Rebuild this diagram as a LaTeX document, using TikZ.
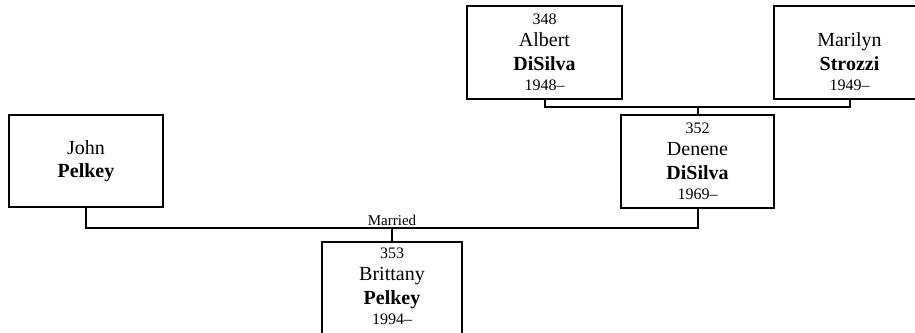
\documentclass[tikz,border=0pt]{standalone}
\usepackage{fontspec}
\setmainfont{Liberation Serif}
\begin{document}
\begin{tikzpicture}[x=1pt,y=1pt,
  person/.style={draw=black,line width=2pt,align=center,inner sep=0pt,
    font=\fontsize{20}{22}\selectfont},
  link/.style={draw=black,line width=2pt}]
\useasboundingbox (0,0) rectangle (915,332);
\newcommand{\smtext}[1]{{\fontsize{16}{18}\selectfont #1}}
% boxes (y measured from top: Y = 332 - ypix)
\node[person,minimum width=155pt,minimum height=93pt] (albert) at (544.5,279.5)
  {\smtext{348}\\Albert\\[1.5pt]\textbf{DiSilva}\\[-1.5pt]\smtext{1948–}};
\node[person,minimum width=152pt,minimum height=93pt] (marilyn) at (849.5,279.5)
  {\smtext{\phantom{0}}\\Marilyn\\[1.5pt]\textbf{Strozzi}\\[-1.5pt]\smtext{1949–}};
\node[person,minimum width=153pt,minimum height=93pt] (denene) at (697.5,170.5)
  {\smtext{352}\\Denene\\[1.5pt]\textbf{DiSilva}\\[-1.5pt]\smtext{1969–}};
\node[person,minimum width=154pt,minimum height=92pt] (john) at (86,171)
  {John\\[1.5pt]\textbf{Pelkey}};
\node[person,minimum width=140pt,minimum height=95pt] (brittany) at (392,42.5)
  {\smtext{353}\\Brittany\\[1.5pt]\textbf{Pelkey}\\[-1.5pt]\smtext{1994–}\rule[-6pt]{0pt}{0pt}};
% connectors
\coordinate (ab) at (697.5,225);
\coordinate (jd) at (392,104);
\draw[link] (albert.south) |- (ab) -| (marilyn.south);
\draw[link] (ab) -- (denene.north);
\draw[link] (john.south) |- (jd) -| (denene.south);
\draw[link] (jd) -- (brittany.north);
\node[font=\fontsize{15}{17}\selectfont,anchor=south,inner sep=2.5pt] (married) at (jd) {Married};
\end{tikzpicture}
\end{document}
